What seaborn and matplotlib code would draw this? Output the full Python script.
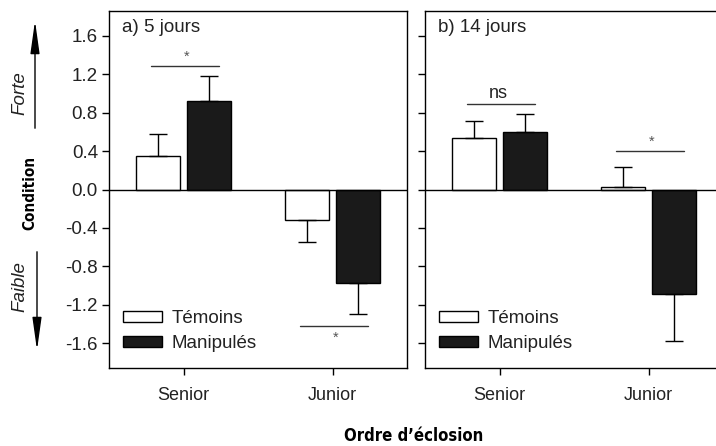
import matplotlib
matplotlib.use("Agg")
import matplotlib.pyplot as plt
import matplotlib.patches as mpatches
import seaborn as sns
import pandas as pd
import numpy as np

# ---- data ----
groups = ["Senior", "Junior"]
treatments = ["Témoins", "Manipulés"]
panel_titles = ["a) 5 jours", "b) 14 jours"]
# means per panel: [Senior Témoins, Senior Manipulés, Junior Témoins, Junior Manipulés]
means_5 = [0.345, 0.92, -0.32, -0.97]
errs_5 = [0.235, 0.26, 0.23, 0.32]
means_14 = [0.535, 0.60, 0.025, -1.09]
errs_14 = [0.175, 0.18, 0.205, 0.48]
# significance marks: (group index, line y, label, label above?)
sig_5 = [(0, 1.285, "*", True), (1, -1.415, "*", False)]
sig_14 = [(0, 0.89, "ns", True), (1, 0.40, "*", True)]
yticks = [-1.6, -1.2, -0.8, -0.4, 0.0, 0.4, 0.8, 1.2, 1.6]

sns.set_theme(style="white")
FONT = ["Liberation Sans", "DejaVu Sans"]
BOLDFONT = ["DejaVu Sans", "Liberation Sans"]
plt.rcParams["font.family"] = FONT

W, H = 716, 446
fig = plt.figure(figsize=(W / 100, H / 100), dpi=100)

def fx(px):
    return px / W

def fy(py):
    return 1 - py / H

axw = 298 / W
axh = (368 - 11) / H
ax1 = fig.add_axes([fx(109), fy(368), axw, axh])
ax2 = fig.add_axes([fx(425), fy(368), axw, axh])

palette = {"Témoins": "white", "Manipulés": "#1a1a1a"}
TXT = "#222222"

for ax, means, errs, title, sigs, show_labels in [
    (ax1, means_5, errs_5, panel_titles[0], sig_5, True),
    (ax2, means_14, errs_14, panel_titles[1], sig_14, False),
]:
    df = pd.DataFrame({
        "Ordre": [g for g in groups for _ in treatments],
        "Traitement": [t for _ in groups for t in treatments],
        "Condition": means,
        "err": errs,
    })
    sns.barplot(data=df, x="Ordre", y="Condition", hue="Traitement",
                order=groups, hue_order=treatments, palette=palette,
                width=0.68, gap=0.12, edgecolor="black", linewidth=1.0,
                errorbar=None, legend=False, ax=ax)
    # error bars (one-sided, away from zero)
    bars = [p for p in ax.patches if isinstance(p, mpatches.Rectangle)]
    bars = sorted(bars, key=lambda p: p.get_x())
    order_df = df.assign(pos=[groups.index(g) + (-1 if t == treatments[0] else 1) * 0.17
                              for g, t in zip(df["Ordre"], df["Traitement"])]).sort_values("pos")
    for p, (_, row) in zip(bars, order_df.iterrows()):
        xc = p.get_x() + p.get_width() / 2
        m = row["Condition"]
        e = row["err"]
        lower = [0] if m >= 0 else [e]
        upper = [e] if m >= 0 else [0]
        ax.errorbar([xc], [m], yerr=[lower, upper], fmt="none",
                    ecolor="black", elinewidth=1.0, capsize=6.8, capthick=1.0, zorder=1)
    ax.axhline(0, color="black", lw=1.0, zorder=3)

    for gi, ly, lab, above in sigs:
        ax.plot([gi - 0.22, gi + 0.24], [ly, ly], color="#333333", lw=1.0)
        if lab == "*":
            ax.text(gi + 0.02, ly + (0.02 if above else -0.05), "*", ha="center",
                    va="bottom" if above else "top", fontsize=10.5, color="#555555")
        else:
            ax.text(gi - 0.01, ly + 0.02, lab, ha="center", va="bottom",
                    fontsize=13, color=TXT)

    ax.set_xlim(-0.5, 1.5)
    ax.set_ylim(-1.855, 1.855)
    ax.set_yticks(yticks)
    if show_labels:
        ax.set_yticklabels([f"{v:.1f}" for v in yticks], fontsize=13.5)
    else:
        ax.set_yticklabels([])
    ax.set_xlabel("")
    ax.set_ylabel("")
    ax.tick_params(axis="x", labelsize=13, length=5, width=1, direction="out",
                   bottom=True, pad=9, colors="black", labelcolor=TXT)
    ax.tick_params(axis="y", length=5, width=1, direction="out", left=True,
                   pad=3, colors="black", labelcolor=TXT)
    for s in ax.spines.values():
        s.set_visible(True)
        s.set_color("black")
        s.set_linewidth(1.0)
    ax.text(0.045, 0.955, title, transform=ax.transAxes, ha="left", va="center",
            fontsize=13.5, color=TXT)
    handles = [mpatches.Patch(facecolor=palette[t], edgecolor="black", lw=1, label=t)
               for t in treatments]
    leg = ax.legend(handles=handles, loc="lower left", bbox_to_anchor=(0.047, 0.045),
                    frameon=False, fontsize=13.5, handlelength=2.1, handleheight=0.55,
                    handletextpad=0.5, labelspacing=0.4, borderpad=0.0,
                    borderaxespad=0.0)
    for t in leg.get_texts():
        t.set_color(TXT)

# y-axis annotations
fig.text(fx(30), fy(193), "Condition", rotation=90, ha="center", va="center",
         fontsize=11, fontweight="bold", fontstretch="condensed", family=BOLDFONT,
         color="black")
fig.text(fx(20), fy(93), "Forte", rotation=90, ha="center", va="center",
         fontsize=13.5, style="italic", family=FONT, color=TXT)
fig.text(fx(20), fy(287), "Faible", rotation=90, ha="center", va="center",
         fontsize=13.5, style="italic", family=FONT, color=TXT)
arrow_style = "-|>,head_length=2.0,head_width=0.28"
fig.add_artist(mpatches.FancyArrowPatch((fx(35), fy(131)), (fx(35), fy(18)),
               transform=fig.transFigure, arrowstyle=arrow_style,
               mutation_scale=10, color="black", lw=1.0))
fig.add_artist(mpatches.FancyArrowPatch((fx(37), fy(249)), (fx(37), fy(353)),
               transform=fig.transFigure, arrowstyle=arrow_style,
               mutation_scale=10, color="black", lw=1.0))
fig.text(fx(414), fy(436), "Ordre d’éclosion", ha="center", va="center",
         fontsize=12, fontweight="bold", fontstretch="condensed", family=BOLDFONT,
         color="black")

fig.savefig("out.png", dpi=100)
